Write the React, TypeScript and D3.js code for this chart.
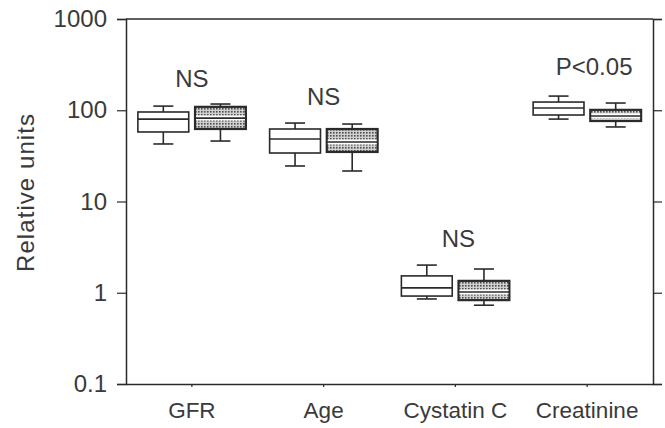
import React, { useEffect, useRef } from 'react';
import * as d3 from 'd3';

// categories and the two groups (open box / stippled box)
const categories = ['GFR', 'Age', 'Cystatin C', 'Creatinine'];
const groups = ['open', 'stippled'];

// box stats per category: [whisker low, q1, median, q3, whisker high]
const openStats = [
    [42.7, 57.8, 80, 95.7, 111],
    [24.5, 34, 48.4, 62.3, 72.4],
    [0.855, 0.92, 1.13, 1.53, 2.01],
    [80, 88.7, 106, 123, 143],
];
const stippledStats = [
    [46, 62.3, 82, 109, 117],
    [21.6, 34.9, 44.9, 62.3, 70.6],
    [0.73, 0.83, 1.02, 1.35, 1.82],
    [65.6, 76.2, 86.5, 101, 120],
];

const annotations = ['NS', 'NS', 'NS', 'P<0.05'];
const annotationValues = [178, 114, 3.16, 243];

const majorTicks = [0.1, 1, 10, 100, 1000];
const yLabel = 'Relative units';

function App() {
    const ref = useRef<SVGSVGElement>(null);
    const width = 665;
    const height = 428;
    const margin = { top: 19, right: 12, bottom: 44, left: 126 };

    useEffect(() => {
        drawChart();
    });

    function drawChart() {
        const svg = d3.select(ref.current);
        svg.selectAll('*').remove();

        const font = '"Liberation Sans", Arial, Helvetica, sans-serif';
        const ink = '#2a2a2a';
        const textInk = '#3a3a3a';

        const x0 = d3
            .scaleBand()
            .domain(categories)
            .range([margin.left, width - margin.right]);
        const x1 = d3
            .scaleBand()
            .domain(groups)
            .range([-54, 54])
            .paddingInner(0.11);
        const y = d3
            .scaleLog()
            .domain([0.1, 1000])
            .range([height - margin.bottom, margin.top]);

        // stipple pattern
        const pat = svg
            .append('defs')
            .append('pattern')
            .attr('id', 'stipple')
            .attr('patternUnits', 'userSpaceOnUse')
            .attr('width', 3)
            .attr('height', 3);
        pat.append('rect').attr('width', 3).attr('height', 3).attr('fill', '#d0d0d0');
        pat.append('rect').attr('width', 1.6).attr('height', 1.6).attr('fill', '#4e4e4e');

        const minorTicks = y.ticks().filter((t) => !majorTicks.includes(t));

        // left axis
        const left = svg.append('g').attr('transform', `translate(${margin.left},0)`);
        left.call(d3.axisLeft(y).tickValues(minorTicks).tickSize(4).tickFormat(() => ''));
        left.call(
            d3.axisLeft(y).tickValues(majorTicks).tickSize(9).tickPadding(10)
                .tickFormat((d) => String(d))
        );
        left.selectAll('.tick text').attr('font-size', 24);

        // right axis
        const right = svg.append('g').attr('transform', `translate(${width - margin.right},0)`);
        right.call(d3.axisRight(y).tickValues(minorTicks).tickSize(4).tickFormat(() => ''));
        right.call(d3.axisRight(y).tickValues(majorTicks).tickSize(9).tickFormat(() => ''));

        // bottom axis
        const bottom = svg.append('g').attr('transform', `translate(0,${height - margin.bottom})`);
        bottom.call(d3.axisBottom(x0).tickSize(3).tickPadding(15).tickSizeOuter(0));
        bottom.selectAll('.tick text').attr('font-size', 22.5);

        // top frame
        svg.append('line')
            .attr('x1', margin.left)
            .attr('x2', width - margin.right)
            .attr('y1', margin.top)
            .attr('y2', margin.top)
            .attr('stroke', ink)
            .attr('stroke-width', 1.5);

        svg.selectAll('.domain').attr('stroke', ink).attr('stroke-width', 1.5);
        svg.selectAll('.tick line').attr('stroke', ink).attr('stroke-width', 1.2);
        svg.selectAll('.tick text')
            .attr('font-family', font)
            .attr('fill', textInk);

        // y label
        svg.append('text')
            .attr('transform', `translate(34,193) rotate(-90)`)
            .attr('text-anchor', 'middle')
            .attr('font-family', font)
            .attr('font-size', 24)
            .attr('textLength', 158)
            .attr('fill', textInk)
            .text(yLabel);

        // boxes
        const capHalf = 10;
        const drawBox = (stats: number[][], group: string) => {
            stats.forEach((s, i) => {
                const [lo, q1, med, q3, hi] = s;
                const bx = (x0(categories[i]) as number) + x0.bandwidth() / 2 + (x1(group) as number);
                const bw = x1.bandwidth();
                const cx = bx + bw / 2;
                const g = svg.append('g');
                // whiskers
                g.append('line').attr('x1', cx).attr('x2', cx).attr('y1', y(hi)).attr('y2', y(q3));
                g.append('line').attr('x1', cx).attr('x2', cx).attr('y1', y(q1)).attr('y2', y(lo));
                g.append('line').attr('x1', cx - capHalf).attr('x2', cx + capHalf).attr('y1', y(hi)).attr('y2', y(hi));
                g.append('line').attr('x1', cx - capHalf).attr('x2', cx + capHalf).attr('y1', y(lo)).attr('y2', y(lo));
                g.selectAll('line').attr('stroke', ink).attr('stroke-width', 1.6);
                g.append('rect')
                    .attr('x', bx)
                    .attr('y', y(q3))
                    .attr('width', bw)
                    .attr('height', y(q1) - y(q3))
                    .attr('fill', group === 'open' ? '#fff' : 'url(#stipple)')
                    .attr('stroke', ink)
                    .attr('stroke-width', group === 'open' ? 1.6 : 2.2);
                if (group !== 'open') {
                    g.append('line')
                        .attr('x1', bx + 1).attr('x2', bx + bw - 1)
                        .attr('y1', y(med)).attr('y2', y(med))
                        .attr('stroke', '#fff').attr('stroke-width', 5);
                }
                g.append('line')
                    .attr('x1', bx).attr('x2', bx + bw)
                    .attr('y1', y(med)).attr('y2', y(med))
                    .attr('stroke', ink).attr('stroke-width', 1.6);
            });
        };
        drawBox(openStats, 'open');
        drawBox(stippledStats, 'stippled');

        // significance labels
        svg.selectAll('.ann')
            .data(annotations)
            .enter()
            .append('text')
            .attr('x', (_, i) => (x0(categories[i]) as number) + x0.bandwidth() / 2 + (i === 3 ? 7 : i === 2 ? 3 : 0))
            .attr('y', (_, i) => y(annotationValues[i]))
            .attr('text-anchor', 'middle')
            .attr('font-family', font)
            .attr('font-size', 24)
            .attr('fill', textInk)
            .text((d) => d);
    }

    return (
        <svg
            ref={ref}
            width={width}
            height={height}
            style={{ position: 'absolute', left: 0, top: 0, background: '#fff' }}
        />
    );
}

export default App;
